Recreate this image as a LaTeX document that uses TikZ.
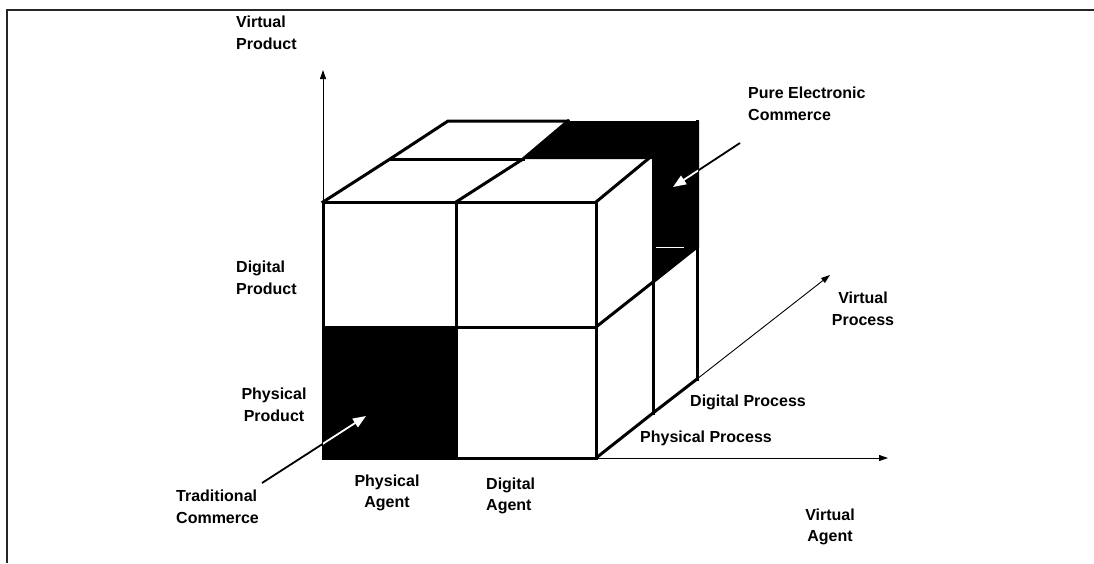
\documentclass[tikz,border=0pt]{standalone}
\usepackage{fontspec}
\setmainfont{Liberation Sans}
\usetikzlibrary{arrows.meta}
\begin{document}
\begin{tikzpicture}[x=1pt,y=-1pt,
  lbl/.style={inner sep=0pt, font=\fontsize{16}{21.5}\selectfont\bfseries},
  edge/.style={line width=3pt, line join=miter, line cap=rect},
  axis/.style={line width=0.9pt, -{Triangle[length=9pt,width=6pt]}},
  pointer/.style={line width=1.8pt},
  whitehead/.style={line width=1.8pt, white, -{Triangle[length=13pt,width=10pt]}}]
\useasboundingbox (0,0) rectangle (1094,563);

% frame
\draw[line width=1.3pt, black!85] (7,563) -- (7,10) -- (1094,10);

% shaded cells
\fill (323,327) rectangle (456,458);
\fill (568,121) -- (699,121) -- (699,247) -- (653,282) -- (653,159) -- (523,159) -- cycle;
\draw[white, line width=0.9pt] (656,247) -- (684,247);

% axes
\coordinate (o) at (323,202);
\coordinate (ytip) at (323,70);
\coordinate (xo) at (596,458);
\coordinate (xtip) at (888,458);
\coordinate (zo) at (697,379);
\coordinate (ztip) at (830,275);
\draw[axis] (o) -- (ytip);
\draw[axis] (xo) -- (xtip);
\draw[axis] (zo) -- (ztip);

% front face
\draw[edge] (323,202) rectangle (596,458);
\draw[edge] (456,202) -- (456,458);
\draw[edge] (323,327) -- (596,327);
% top face
\draw[edge] (323,202) -- (390,159) -- (448,121) -- (568,121);
\draw[edge] (390,159) -- (523,159);
\draw[edge] (456,202) -- (523,159) -- (568,121);
\draw[edge] (596,202) -- (648,159);
% side face
\draw[edge] (653,159) -- (653,413);
\draw[edge] (697,121) -- (697,379);
\draw[edge] (596,327) -- (653,282) -- (697,247);
\draw[edge] (596,458) -- (653,413) -- (697,379);

% labels
\node[lbl, anchor=north west, align=left] (vprod) at (236,16) {Virtual\\Product};
\node[lbl, anchor=north west, align=left] (pec) at (748,87) {Pure Electronic\\Commerce};
\node[lbl, anchor=north west, align=left] (dprod) at (236,261) {Digital\\Product};
\node[lbl, align=center] (vproc) at (863,309) {Virtual\\Process};
\node[lbl, align=center] (pprod) at (274,405) {Physical\\Product};
\node[lbl, anchor=west] (dproc) at (690,402) {Digital Process};
\node[lbl, anchor=west] (pproc) at (640,438) {Physical Process};
\node[lbl, anchor=west, align=left] (trad) at (176,507) {Traditional\\Commerce};
\node[lbl, align=center] (pagent) at (387,493) {Physical\\Agent};
\node[lbl, anchor=west, align=left] (dagent) at (486,496) {Digital\\Agent};
\node[lbl, align=center] (vagent) at (830,527) {Virtual\\Agent};

% pointers
\coordinate (tradfrom) at (262,483);
\coordinate (tradto) at (366,416);
\draw[pointer] (tradfrom) -- (tradto);
\begin{scope}
  \clip (323,327) rectangle (456,458);
  \draw[whitehead] (tradfrom) -- (tradto);
\end{scope}
\coordinate (pecfrom) at (740,143);
\coordinate (pecto) at (673,187);
\draw[pointer] (pecfrom) -- (pecto);
\begin{scope}
  \clip (653,121) rectangle (698,282);
  \draw[whitehead] (pecfrom) -- (pecto);
\end{scope}
\end{tikzpicture}
\end{document}
